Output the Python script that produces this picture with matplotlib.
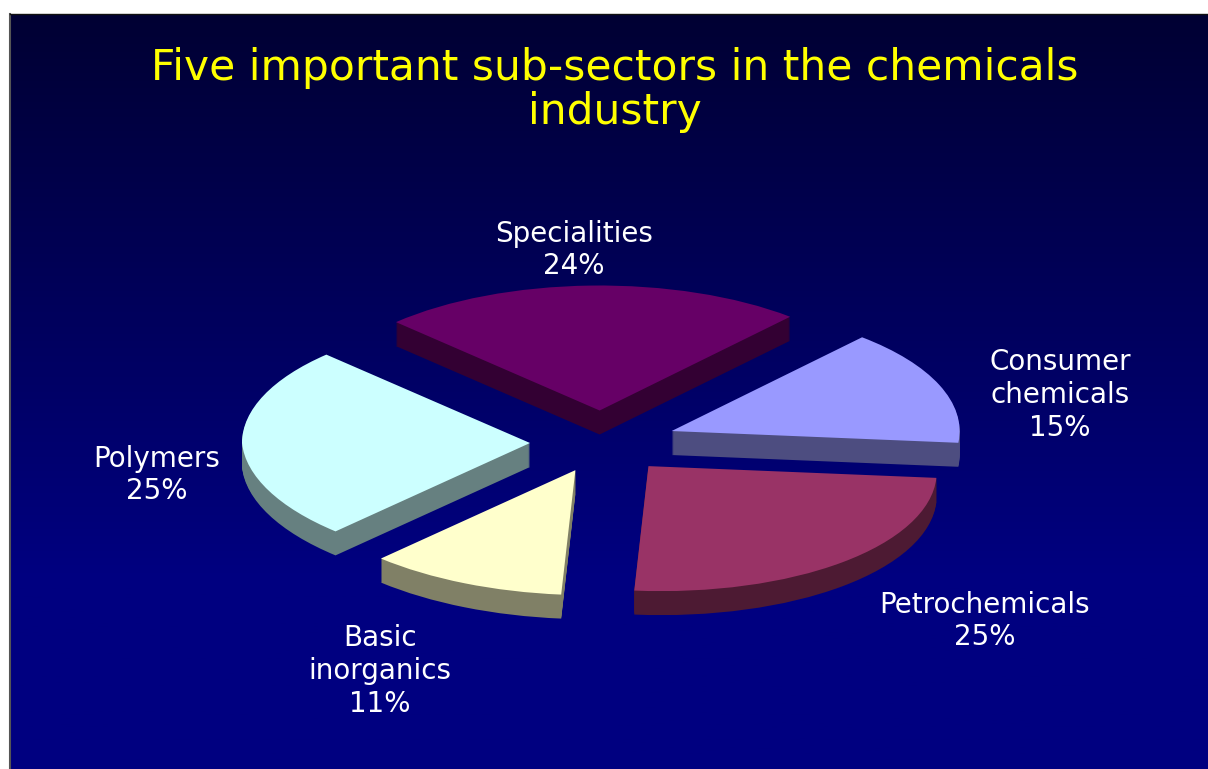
import numpy as np
import matplotlib
matplotlib.use("Agg")
import matplotlib.pyplot as plt
from matplotlib.transforms import Transform, Affine2D

# slices, clockwise from the upper left
sectors = ["Specialities", "Consumer\nchemicals", "Petrochemicals", "Basic\ninorganics", "Polymers"]
shares = [24, 15, 25, 11, 25]
top_colors = ["#660066", "#9999ff", "#993366", "#ffffcc", "#ccffff"]
side_colors = ["#330033", "#4d4d80", "#4d1a33", "#808066", "#668080"]
explode = [0.26, 0.26, 0.24, 0.24, 0.25]

title = "Five important sub-sectors in the chemicals\nindustry"

W, H = 1208, 769
cx, cy = 602, 443   # pie centre in pixels
rx, ry = 288, 125   # flattened radius in pixels
depth = 24


class LowerShear(Transform):
    # the source pie has some perspective: its front half leans to the right
    input_dims = output_dims = 2

    def transform_non_affine(self, values):
        out = np.array(values, dtype=float)
        out[:, 0] += 0.045 * np.clip(-out[:, 1], 0, None)
        return out


plt.rcParams["font.family"] = "DejaVu Sans"
fig = plt.figure(figsize=(W / 100, H / 100), dpi=100, facecolor="white")

# background gradient, pixel coords
bg = fig.add_axes([0, 0, 1, 1])
bg.axis("off")
grad = np.clip(np.linspace(0, 1, 256).reshape(-1, 1) * 1.35, 0, 1)
rgb = np.zeros((256, 1, 3))
rgb[:, :, 2] = (0x33 + (0x80 - 0x33) * grad) / 255
bg.imshow(rgb, extent=[10, W, H, 14], aspect="auto", zorder=0)
bg.set_xlim(0, W)
bg.set_ylim(H, 0)
bg.plot([9.5, 9.5], [14, H], color="#555555", lw=1.5, zorder=1)
bg.plot([9.5, W], [14, 14], color="#111111", lw=1, zorder=1)

# pie axes, one unit = rx / ry pixels so the circle comes out flat
ax = fig.add_axes([0, 0, 1, 1])
ax.patch.set_alpha(0)
for k in range(depth, -1, -1):
    colors = side_colors if k > 0 else top_colors
    wedges, _ = ax.pie(shares, explode=explode, colors=colors, startangle=135, counterclock=False,
                       wedgeprops={"linewidth": 0})
    for w in wedges:
        w.set_transform(LowerShear() + Affine2D().translate(0, -k / ry) + ax.transData)
ax.set_aspect("auto")
ax.set_xlim(-cx / rx, (W - cx) / rx)
ax.set_ylim((cy - H) / ry, cy / ry)
ax.axis("off")

# texts on top
txt = fig.add_axes([0, 0, 1, 1])
txt.set_xlim(0, W)
txt.set_ylim(H, 0)
txt.axis("off")
txt.text(615, 90, title, color="#ffff00", fontsize=30.5, ha="center", va="center", linespacing=1.05)

label_pos = [(574, 250), (1060, 395), (985, 621), (380, 671), (157, 475)]
for name, share, (x, y) in zip(sectors, shares, label_pos):
    txt.text(x, y, f"{name}\n{share}%", color="white", fontsize=20, ha="center", va="center",
             linespacing=1.22)

fig.savefig("out.png", dpi=100, facecolor="white")
